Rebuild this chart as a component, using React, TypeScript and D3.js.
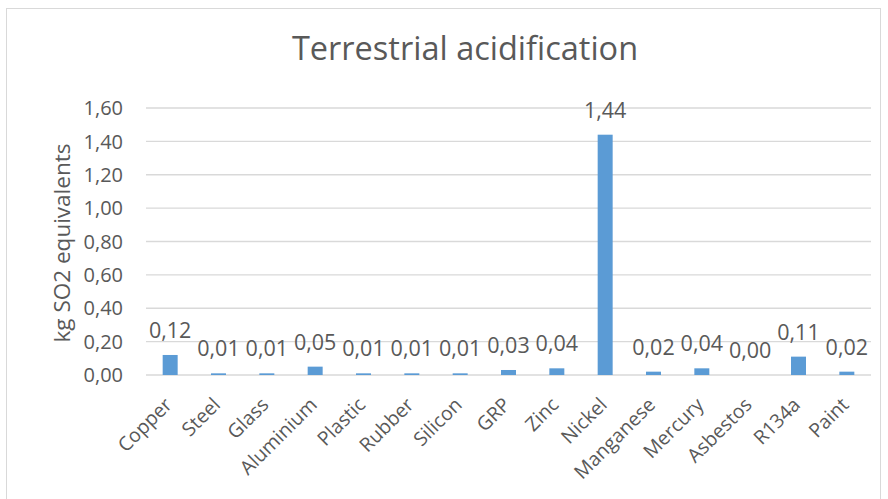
import React from "react";
import * as d3 from "d3";

const categories = ["Copper", "Steel", "Glass", "Aluminium", "Plastic", "Rubber", "Silicon", "GRP", "Zinc", "Nickel", "Manganese", "Mercury", "Asbestos", "R134a", "Paint"];
const values = [0.12, 0.01, 0.01, 0.05, 0.01, 0.01, 0.01, 0.03, 0.04, 1.44, 0.02, 0.04, 0.0, 0.11, 0.02];
const yTicks = [0, 0.2, 0.4, 0.6, 0.8, 1.0, 1.2, 1.4, 1.6];

const W = 888;
const H = 499;
const FONT = "'Open Sans', 'Liberation Sans', sans-serif";
const TEXT = "#595959";

const fmt = (v: number) => v.toFixed(2).replace(".", ",");

export default function App() {
  const x = d3.scaleBand<string>().domain(categories).range([146, 871]).paddingInner(0.69).paddingOuter(0.345);
  const y = d3.scaleLinear().domain([0, 1.6]).range([375, 108]);

  return (
    <svg width={W} height={H} style={{ position: "absolute", left: 0, top: 0 }} fontFamily={FONT}>
      <rect x={0} y={0} width={W} height={H} fill="#fff" />
      <rect x={6.5} y={8.5} width={874} height={500} fill="none" stroke="#D9D9D9" />
      <text x={465} y={60} textAnchor="middle" fontSize={32.5} fill={TEXT}>
        Terrestrial acidification
      </text>
      <text transform={`translate(70,243) rotate(-90)`} textAnchor="middle" fontSize={22.5} fill={TEXT}>
        kg SO2 equivalents
      </text>
      {yTicks.map((t) => (
        <g key={t}>
          <line x1={146} x2={871} y1={y(t)} y2={y(t)} stroke="#D9D9D9" strokeWidth={1.3} />
          <text x={123} y={y(t)} dy="0.36em" textAnchor="end" fontSize={20} fill={TEXT}>
            {fmt(t)}
          </text>
        </g>
      ))}
      {categories.map((c, i) => {
        const bx = x(c)!;
        const cx = bx + x.bandwidth() / 2;
        return (
          <g key={c}>
            <rect x={bx} y={y(values[i])} width={x.bandwidth()} height={y(0) - y(values[i])} fill="#5B9BD5" />
            <text x={cx} y={y(values[i]) - 17} textAnchor="middle" fontSize={21.5} fill={TEXT}>
              {fmt(values[i])}
            </text>
            <text
              transform={`translate(${cx + 3},${406}) rotate(-45)`}
              textAnchor="end"
              fontSize={19.5}
              fill={TEXT}
            >
              {c}
            </text>
          </g>
        );
      })}
    </svg>
  );
}
